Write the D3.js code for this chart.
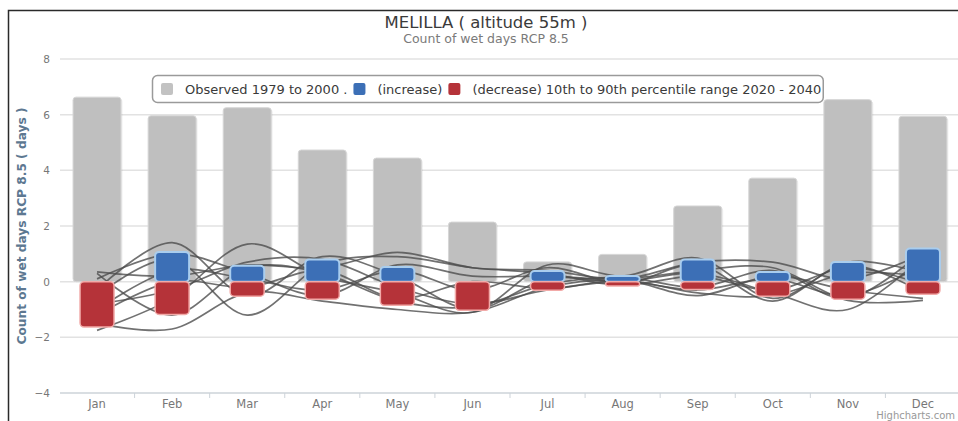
<!DOCTYPE html>
<html>
<head>
<meta charset="utf-8">
<script src="https://cdn.jsdelivr.net/npm/d3@7/dist/d3.min.js"></script>
<style>
  html, body { margin: 0; padding: 0; background: #fff; }
  svg { display: block; font-family: "DejaVu Sans", "Open Sans", sans-serif; }
</style>
</head>
<body>
<svg id="chart" width="958" height="421"></svg>
<script>
// Monthly categories and series (days)
const months = ["Jan", "Feb", "Mar", "Apr", "May", "Jun", "Jul", "Aug", "Sep", "Oct", "Nov", "Dec"];
const observed = [6.63, 5.96, 6.25, 4.73, 4.44, 2.14, 0.71, 0.98, 2.72, 3.72, 6.54, 5.94];
const increase = [0, 1.07, 0.57, 0.80, 0.53, 0, 0.38, 0.20, 0.80, 0.35, 0.71, 1.19];
const decrease = [-1.63, -1.18, -0.52, -0.63, -0.85, -1.03, -0.31, -0.16, -0.28, -0.52, -0.63, -0.45];

// Individual model projections (change in wet days)
const model1 = [0.35, 0.20, 0.60, 0.50, 1.05, 0.50, 0.40, 0.10, 0.70, 0.70, 0.10, 1.00];
const model2 = [-0.30, 1.40, -0.50, 0.90, 0.20, -1.00, 0.10, 0.00, 0.30, -0.40, -1.00, 0.90];
const model3 = [-1.75, -0.60, 1.35, 0.20, -0.40, -1.10, 0.60, 0.20, 0.85, -0.60, 0.60, -0.40];
const model4 = [-1.50, -1.70, -0.40, -0.70, -1.00, -1.10, -0.20, 0.05, -0.50, 0.20, -0.30, -0.60];
const model5 = [-0.50, 0.80, -1.20, 0.60, 0.90, 0.50, 0.30, -0.10, 0.60, -0.70, 0.70, 0.30];
const model6 = [0.30, -1.20, 0.50, 0.30, -0.70, -0.90, -0.10, 0.15, -0.20, 0.40, -0.60, 1.10];
const model7 = [-1.00, 0.40, 0.10, -0.30, 0.40, -0.30, 0.50, -0.10, 0.20, -0.30, 0.50, -0.10];
const model8 = [-0.80, -0.30, 0.70, 0.80, -0.20, -0.80, -0.30, 0.00, -0.30, 0.10, -0.50, 0.60];
const model9 = [0.10, 1.00, 0.30, -0.50, 0.60, 0.20, 0.20, 0.10, 0.40, 0.50, -0.67, -0.67];
const model10 = [-1.20, 0.00, -0.20, 0.40, -0.60, 0.00, -0.25, 0.05, -0.40, -0.50, 0.30, 0.20];
const models = [model1, model2, model3, model4, model5, model6, model7, model8, model9, model10];

const yTicks = [-4, -2, 0, 2, 4, 6, 8];

const svg = d3.select("#chart");

const plot = { left: 59.5, right: 960.5, top: 59, bottom: 393 };

const x = d3.scaleBand().domain(months).range([plot.left, plot.right]).padding(0);
const y = d3.scaleLinear().domain([-4, 8]).range([plot.bottom, plot.top]);
const cx = m => x(m) + x.bandwidth() / 2;

// Frame
svg.append("path")
  .attr("d", `M8.5,421 L8.5,10.5 L958,10.5`)
  .attr("fill", "none").attr("stroke", "#2a2a2a").attr("stroke-width", 1.5);

// Titles
svg.append("text").attr("x", 486).attr("y", 28).attr("text-anchor", "middle")
  .attr("font-size", 16.5).attr("fill", "#3a3a3a").text("MELILLA ( altitude 55m )");
svg.append("text").attr("x", 486).attr("y", 43).attr("text-anchor", "middle")
  .attr("font-size", 12.5).attr("fill", "#7a7a7a").text("Count of wet days RCP 8.5");

// Grid lines
svg.append("g").selectAll("line").data(yTicks.filter(t => t !== -4)).join("line")
  .attr("x1", 60).attr("x2", 958)
  .attr("y1", d => y(d)).attr("y2", d => y(d))
  .attr("stroke", "#e2e2e2").attr("stroke-width", 1.5);

// Y axis labels
const yAxis = d3.axisLeft(y).tickValues(yTicks).tickSize(0).tickPadding(0).tickFormat(d3.format("d"));
const gy = svg.append("g").attr("transform", "translate(50,0)").call(yAxis);
gy.select(".domain").remove();
gy.selectAll("text").attr("font-size", 10.5).attr("fill", "#777").attr("font-family", "DejaVu Sans, sans-serif");

// Y axis title
svg.append("text")
  .attr("transform", `translate(26,${y(2)}) rotate(-90)`)
  .attr("text-anchor", "middle")
  .attr("font-size", 12.2).attr("font-weight", "bold").attr("fill", "#5d7891")
  .text("Count of wet days RCP 8.5 ( days )");

// X axis
const xAxis = d3.axisBottom(x).tickSize(0).tickPadding(7);
const gx = svg.append("g").attr("transform", `translate(0,${plot.bottom})`).call(xAxis);
gx.select(".domain").attr("stroke", "#cdd3d9").attr("stroke-width", 1.5).attr("d", `M60,0H958`);
gx.selectAll("text").attr("font-size", 11.5).attr("fill", "#777").attr("font-family", "DejaVu Sans, sans-serif");
svg.append("g").selectAll("line").data(months.slice(1)).join("line")
  .attr("x1", d => x(d)).attr("x2", d => x(d))
  .attr("y1", plot.bottom).attr("y2", plot.bottom + 5)
  .attr("stroke", "#cdd3d9").attr("stroke-width", 1);

// Observed columns (with a soft shadow)
const obsW = 48;
const obs = svg.append("g");
obs.selectAll("rect.shadow").data(months).join("rect").attr("class", "shadow")
  .attr("x", d => cx(d) - obsW / 2 + 1.5).attr("width", obsW)
  .attr("y", (d, i) => y(observed[i]) + 1.5).attr("height", (d, i) => y(0) - y(observed[i]) - 1.5)
  .attr("rx", 3).attr("fill", "#000").attr("opacity", 0.06);
obs.selectAll("rect.bar").data(months).join("rect").attr("class", "bar")
  .attr("x", d => cx(d) - obsW / 2).attr("width", obsW)
  .attr("y", (d, i) => y(observed[i])).attr("height", (d, i) => y(0) - y(observed[i]))
  .attr("rx", 3).attr("fill", "#bfbfbf").attr("stroke", "#d6d6d6").attr("stroke-width", 1);

// Model spline lines
const line = d3.line().x((d, i) => cx(months[i])).y(d => y(d)).curve(d3.curveCardinal.tension(0));
svg.append("g").selectAll("path").data(models).join("path")
  .attr("d", line).attr("fill", "none")
  .attr("stroke", "#4d4d4d").attr("stroke-opacity", 0.8).attr("stroke-width", 1.7);

// Percentile range boxes
const boxW = 34;
const boxes = svg.append("g");
boxes.selectAll("rect.inc").data(months.filter((m, i) => increase[i] > 0)).join("rect").attr("class", "inc")
  .attr("x", d => cx(d) - boxW / 2).attr("width", boxW)
  .attr("y", d => y(increase[months.indexOf(d)])).attr("height", d => y(0) - y(increase[months.indexOf(d)]))
  .attr("rx", 4).attr("fill", "#3c6fb6").attr("stroke", "#a9cdee").attr("stroke-width", 2);
boxes.selectAll("rect.dec").data(months).join("rect").attr("class", "dec")
  .attr("x", d => cx(d) - boxW / 2).attr("width", boxW)
  .attr("y", y(0)).attr("height", (d, i) => y(decrease[i]) - y(0))
  .attr("rx", 4).attr("fill", "#b53339").attr("stroke", "#f2aaa8").attr("stroke-width", 1.5);

// Legend: items laid out left to right from measured label widths
const lg = svg.append("g");
const legendBox = lg.append("rect").attr("x", 152.5).attr("y", 75.5).attr("height", 27)
  .attr("rx", 5).attr("fill", "#fff").attr("stroke", "#9a9a9a").attr("stroke-width", 1.5);
const legendItems = [
  { color: "#c2c2c2", label: "Observed 1979 to 2000 ." },
  { color: "#3c6fb6", label: "(increase)" },
  { color: "#b53339", label: "(decrease) 10th to 90th percentile range 2020 - 2040" }
];
let lx = 161;
legendItems.forEach(it => {
  lg.append("rect").attr("x", lx).attr("y", 83).attr("width", 12).attr("height", 12)
    .attr("rx", 2).attr("fill", it.color);
  const t = lg.append("text").attr("x", lx + 24).attr("y", 93.5)
    .attr("font-size", 13).attr("fill", "#3a3a3a").text(it.label);
  lx += 24 + t.node().getComputedTextLength() + 6;
});
legendBox.attr("width", lx - 152.5 - 4);

// Credits
svg.append("text").attr("x", 955).attr("y", 419).attr("text-anchor", "end")
  .attr("font-size", 10).attr("fill", "#999").text("Highcharts.com");
</script>
</body>
</html>
